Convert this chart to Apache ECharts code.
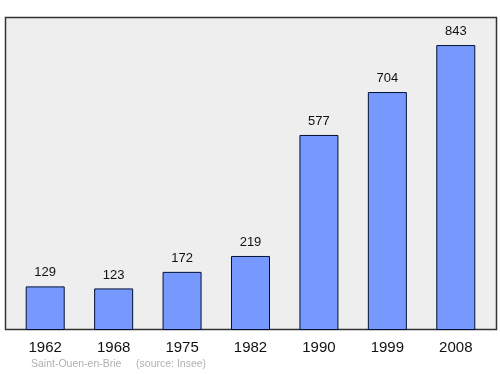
<!DOCTYPE html>
<html><head><meta charset="utf-8">
<script src="https://cdn.jsdelivr.net/npm/echarts@6/dist/echarts.min.js"></script>
<style>html,body{margin:0;padding:0;background:#fff}#c{width:500px;height:374px}</style>
</head><body><div id="c"></div>
<script>
const years = ['1962','1968','1975','1982','1990','1999','2008'];
const population = [129,123,172,219,577,704,843];
const sourceText = 'Saint-Ouen-en-Brie     (source: Insee)';
const chart = echarts.init(document.getElementById('c'));
chart.setOption({
  animation: false,
  graphic: [
    {type:'rect', shape:{x:5.5,y:17.5,width:491,height:312}, style:{fill:'#eeeeee', stroke:'#333', lineWidth:1.5}, z:-10},
    {type:'text', left:31, top:359, style:{text:sourceText, fill:'#b0b0b0', font:'10.5px "Liberation Sans", Arial, sans-serif'}}
  ],
  grid:{left:11, right:10, top:17, bottom:44},
  xAxis:{type:'category', data:years, axisLine:{show:false}, axisTick:{show:false},
    axisLabel:{color:'#111', fontSize:15, fontFamily:'"Liberation Sans", Arial, sans-serif', margin:10}},
  yAxis:{type:'value', min:0, max:926, show:false, splitLine:{show:false}},
  series:[{type:'bar', data:population, barWidth:39,
    itemStyle:{color:'#7799ff', borderColor:'#001133', borderWidth:1},
    label:{show:true, position:'top', distance:7, color:'#111', fontSize:13, fontFamily:'"Liberation Sans", Arial, sans-serif'}}]
});
</script></body></html>
